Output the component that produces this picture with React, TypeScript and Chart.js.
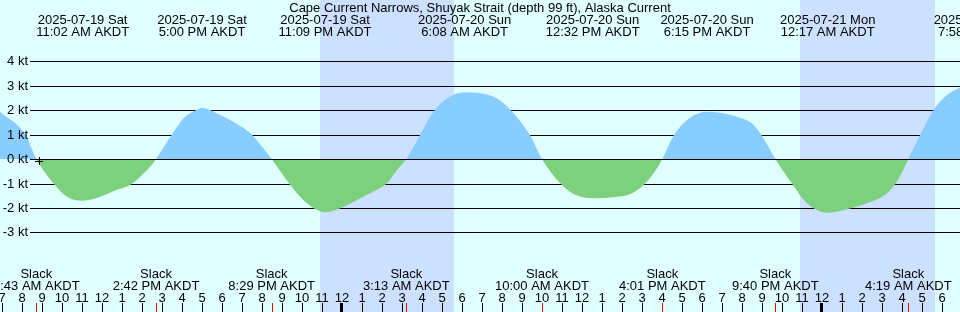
import React, { useEffect, useRef } from "react";
import { Chart, registerables } from "chart.js";

Chart.register(...registerables);

const W = 960;
const H = 312;

const TITLE = "Cape Current Narrows, Shuyak Strait (depth 99 ft), Alaska Current";

// Time is in hours relative to 2025-07-20 00:00 AKDT
const X_MIN = -17.1;
const X_MAX = 30.9;
const Y_MIN = -6.2449;
const Y_MAX = 6.4898;

const currentHours = [
  -17.1, -15.84, -15.283, -14.42, -13.75, -12.967, -12.085, -11.25, -10.585, -10.085, -9.585, -9.3,
  -8.9, -8.5, -7.92, -7.42, -7.0, -6.25, -5.085, -4.515, -4.0, -3.517, -2.585, -1.75, -0.85,
  -0.085, 0.75, 1.58, 2.25, 2.75, 3.217, 3.58, 3.915, 4.58, 5.25, 6.133, 6.915,
  7.75, 8.5, 9.415, 10.0, 10.915, 11.58, 12.533, 13.58, 14.415, 15.08, 15.58, 16.017,
  16.58, 17.25, 18.25, 18.915, 19.75, 20.58, 21.08, 21.667, 22.5, 23.25, 24.283, 25.25,
  26.25, 27.25, 27.75, 28.317, 28.915, 29.58, 30.25, 30.9,
];
const currentKnots = [
  1.93, 1.0, 0, -1.0, -1.54, -1.7, -1.54, -1.26, -1.05, -0.72, -0.31, 0,
  0.5, 1.0, 1.66, 1.94, 2.08, 1.86, 1.35, 1.0, 0.5, 0, -1.06, -1.81, -2.17,
  -2.01, -1.67, -1.33, -0.99, -0.45, 0, 0.5, 1.0, 1.94, 2.47, 2.72, 2.68,
  2.47, 1.94, 0.95, 0, -0.99, -1.43, -1.6, -1.56, -1.43, -1.06, -0.58, 0,
  0.95, 1.59, 1.93, 1.89, 1.72, 1.39, 0.84, 0, -1.0, -1.81, -2.19, -2.05,
  -1.81, -1.4, -0.92, 0, 1.0, 2.0, 2.61, 2.92,
];

const extremaHours = [-12.967, -7.0, -0.85, 6.133, 12.533, 18.25, 24.283, 31.967];
const extremaDates = [
  "2025-07-19 Sat", "2025-07-19 Sat", "2025-07-19 Sat", "2025-07-20 Sun",
  "2025-07-20 Sun", "2025-07-20 Sun", "2025-07-21 Mon", "2025-07-21 Mon",
];
const extremaTimes = [
  "11:02 AM AKDT", "5:00 PM AKDT", "11:09 PM AKDT", "6:08 AM AKDT",
  "12:32 PM AKDT", "6:15 PM AKDT", "12:17 AM AKDT", "7:58 AM AKDT",
];

const slackHours = [-15.283, -9.3, -3.517, 3.217, 10.0, 16.017, 21.667, 28.317];
const slackTimes = [
  "8:43 AM AKDT", "2:42 PM AKDT", "8:29 PM AKDT", "3:13 AM AKDT",
  "10:00 AM AKDT", "4:01 PM AKDT", "9:40 PM AKDT", "4:19 AM AKDT",
];

const nightStart = [-1.1, 22.9];
const nightEnd = [5.6, 29.65];

const yTicks = [4, 3, 2, 1, 0, -1, -2, -3];

const markerHour = [-15.165];
const markerKnots = [-0.094];

const BG = "rgb(224,255,255)";
const NIGHT = "rgb(204,224,255)";
const FLOOD = "rgb(135,205,255)";
const EBB = "rgb(125,208,125)";
const FONT = "13px 'Liberation Sans', Arial, sans-serif";

const tidePlugin = {
  id: "tideDecor",
  beforeDraw(chart: any) {
    const { ctx } = chart;
    const xs = chart.scales.x;
    const ys = chart.scales.y;
    ctx.save();
    ctx.fillStyle = BG;
    ctx.fillRect(0, 0, W, H);
    ctx.fillStyle = NIGHT;
    nightStart.forEach((s, i) => {
      const a = Math.round(xs.getPixelForValue(s));
      const b = Math.round(xs.getPixelForValue(nightEnd[i]));
      ctx.fillRect(a, 0, b - a, H);
    });
    ctx.fillStyle = "#000";
    yTicks.forEach((v) => {
      if (v === 0) return;
      const y = Math.floor(ys.getPixelForValue(v) + 0.5 + 1e-6);
      ctx.fillRect(30, y, W - 30, 1);
    });
    ctx.restore();
  },
  afterDatasetsDraw(chart: any) {
    const { ctx } = chart;
    const xs = chart.scales.x;
    const ys = chart.scales.y;
    ctx.save();
    ctx.fillStyle = "#000";
    const y0 = Math.floor(ys.getPixelForValue(0) + 0.5 + 1e-6);
    ctx.fillRect(30, y0, W - 30, 1);

    ctx.font = FONT;
    ctx.textBaseline = "alphabetic";
    ctx.textAlign = "right";
    yTicks.forEach((v) => {
      const y = Math.floor(ys.getPixelForValue(v) + 0.5 + 1e-6);
      ctx.fillText(`${v} kt`, 28, y + 4);
    });

    markerHour.forEach((h, i) => {
      const mx = Math.round(xs.getPixelForValue(h));
      const my = Math.round(ys.getPixelForValue(markerKnots[i]));
      ctx.fillRect(mx - 4, my, 8, 1);
      ctx.fillRect(mx, my - 4, 1, 8);
    });

    ctx.textAlign = "center";
    ctx.fillText(TITLE, W / 2, 12);
    extremaHours.forEach((h, i) => {
      const x = xs.getPixelForValue(h);
      ctx.fillText(extremaDates[i], x, 24);
      ctx.fillText(extremaTimes[i], x, 36);
    });
    slackHours.forEach((h, i) => {
      const x = xs.getPixelForValue(h);
      ctx.fillText("Slack", x, 278);
      ctx.fillText(slackTimes[i], x, 290);
    });

    for (let h = Math.ceil(X_MIN); h <= Math.floor(X_MAX); h++) {
      const x = Math.round(xs.getPixelForValue(h));
      const hh = ((h % 24) + 24) % 24;
      const lbl = hh % 12 === 0 ? 12 : hh % 12;
      ctx.fillStyle = "#000";
      ctx.fillText(String(lbl), x, 302);
      if (hh === 0) ctx.fillRect(x - 2, 303, 3, 9);
      else ctx.fillRect(x, 303, 1, 9);
    }
    ctx.fillStyle = "rgb(255,0,0)";
    slackHours.forEach((h) => {
      const x = Math.round(xs.getPixelForValue(h));
      ctx.fillRect(x, 303, 1, 9);
    });
    ctx.restore();
  },
};

export default function App() {
  const ref = useRef<HTMLCanvasElement | null>(null);
  useEffect(() => {
    document.body.style.margin = "0";
    const canvas = ref.current;
    if (!canvas) return;
    const chart = new Chart(canvas, {
      type: "line",
      data: {
        datasets: [
          {
            data: currentHours.map((h, i) => ({ x: h, y: currentKnots[i] })),
            borderColor: "rgba(0,0,0,0)",
            borderWidth: 0,
            pointRadius: 0,
            cubicInterpolationMode: "monotone",
            fill: { target: "origin", above: FLOOD, below: EBB },
          } as any,
        ],
      },
      options: {
        animation: false,
        responsive: false,
        devicePixelRatio: 1,
        layout: { padding: 0 },
        events: [],
        scales: {
          x: { type: "linear", min: X_MIN, max: X_MAX, display: false },
          y: { type: "linear", min: Y_MIN, max: Y_MAX, display: false },
        },
        plugins: { legend: { display: false }, tooltip: { enabled: false } },
      },
      plugins: [tidePlugin],
    });
    return () => chart.destroy();
  }, []);
  return (
    <canvas
      ref={ref}
      width={W}
      height={H}
      style={{ position: "absolute", left: 0, top: 0, width: W, height: H, display: "block" }}
    />
  );
}
